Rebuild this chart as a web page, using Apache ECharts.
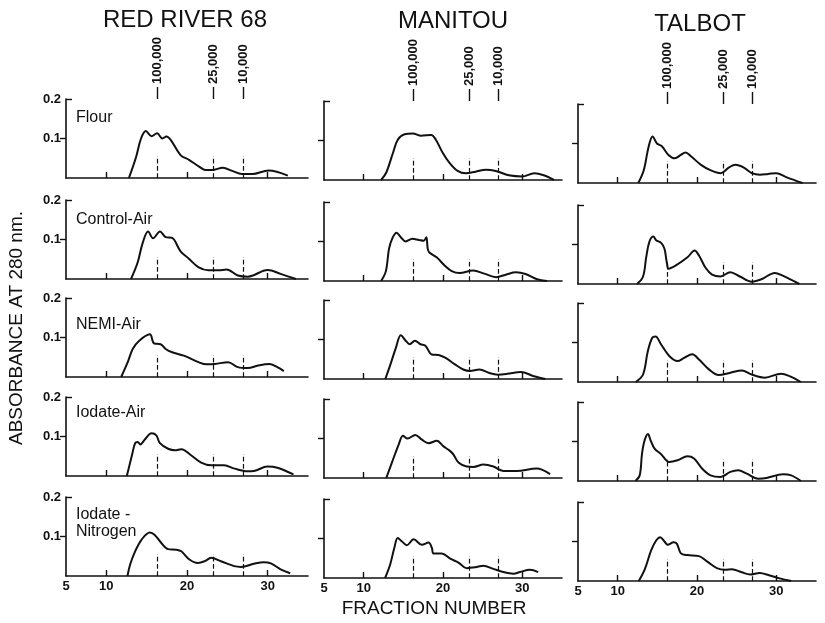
<!DOCTYPE html>
<html>
<head>
<meta charset="utf-8">
<script src="https://cdn.jsdelivr.net/npm/echarts@6/dist/echarts.min.js"></script>
<style>
  html, body { margin: 0; padding: 0; background: #fff; }
  #main { width: 825px; height: 623px; }
</style>
</head>
<body>
<div id="main"></div>
<script>
var cultivars = ['RED RIVER 68', 'MANITOU', 'TALBOT'];
var treatments = ['Flour', 'Control-Air', 'NEMI-Air', 'Iodate-Air', 'Iodate -\nNitrogen'];
var xTicks = [10, 20, 30];
var xTickLabels = [5, 10, 20, 30];
var yTickLabels = [0.1, 0.2];
var mwPositions = [16.3, 23.3, 27.0];
var mwLabels = ['100,000', '25,000', '10,000'];
var mwMarkHeight = 0.055;

// fraction number, absorbance
var redRiverFlour = [[12.8,0],[13.7,0.054],[14.3,0.1],[14.9,0.119],[15.6,0.106],[16.3,0.113],[16.95,0.1],[17.45,0.105],[18.0,0.096],[19.2,0.058],[20.25,0.046],[21.5,0.029],[22.3,0.02],[23.1,0.02],[24.45,0.026],[25.6,0.018],[26.8,0.01],[28.1,0.01],[30.1,0.019],[32.5,0.006]];
var redRiverControlAir = [[13.06,0],[13.9,0.043],[14.5,0.091],[15.18,0.12],[15.8,0.103],[16.65,0.12],[17.35,0.106],[18.16,0.104],[19.2,0.07],[20.2,0.052],[21.4,0.03],[22.65,0.022],[23.9,0.022],[24.9,0.024],[26.3,0.009],[27.55,0.006],[30.0,0.023],[31.6,0.013],[33.5,0]];
var redRiverNemiAir = [[11.84,0],[12.65,0.0375],[13.27,0.071],[14.08,0.092],[15.39,0.108],[15.92,0.085],[16.73,0.083],[17.35,0.071],[18.16,0.0625],[19.6,0.054],[21.43,0.0375],[22.45,0.032],[23.47,0.033],[25.1,0.0375],[26.3,0.025],[27.55,0.0225],[28.8,0.029],[30.2,0.033],[31.2,0.025],[32.0,0.015]];
var redRiverIodateAir = [[12.54,0],[13.16,0.051],[13.57,0.083],[13.9,0.086],[14.2,0.08],[14.8,0.093],[15.6,0.108],[16.2,0.103],[16.64,0.083],[17.66,0.069],[18.5,0.065],[19.3,0.068],[20.5,0.0525],[21.76,0.034],[23.0,0.027],[23.8,0.027],[24.6,0.027],[25.9,0.0186],[27.5,0.012],[28.3,0.0127],[29.96,0.024],[31.2,0.021],[33.2,0.004]];
var redRiverIodateN2 = [[12.62,0],[12.95,0.029],[13.57,0.0625],[14.4,0.093],[15.4,0.11],[16.0,0.104],[16.84,0.083],[17.66,0.068],[18.7,0.0667],[19.3,0.0625],[20.3,0.0417],[21.35,0.033],[22.2,0.0375],[23.0,0.046],[24.2,0.0375],[25.86,0.025],[26.7,0.023],[28.3,0.031],[29.5,0.035],[30.4,0.032],[31.6,0.017],[32.8,0.007]];

var manitouFlour = [[12.2,0],[12.85,0.019],[13.7,0.069],[14.3,0.102],[15.15,0.116],[16.2,0.118],[17.24,0.112],[18.5,0.114],[19.1,0.102],[19.96,0.069],[20.8,0.044],[21.84,0.023],[22.9,0.017],[24.1,0.021],[25.4,0.026],[26.65,0.023],[28.3,0.012],[30.0,0.009],[31.5,0.017],[32.7,0.012],[34.0,0]];
var manitouControlAir = [[12.2,0],[12.8,0.025],[13.2,0.082],[13.64,0.109],[14.14,0.122],[14.68,0.111],[15.3,0.1],[16.13,0.107],[16.96,0.104],[17.58,0.102],[17.9,0.111],[18.07,0.082],[18.28,0.072],[19.2,0.06],[20.27,0.038],[21.1,0.025],[22.1,0.02],[23.8,0.0265],[25.2,0.0186],[26.7,0.0097],[27.9,0.016],[29.2,0.022],[30.4,0.0177],[31.86,0.0044],[33.1,0]];
var manitouNemiAir = [[12.73,0],[13.44,0.041],[14.06,0.079],[14.68,0.111],[15.3,0.097],[15.8,0.088],[16.46,0.097],[17.16,0.088],[17.78,0.084],[18.6,0.062],[19.44,0.061],[20.27,0.054],[21.5,0.037],[22.55,0.024],[23.37,0.02],[24.6,0.024],[25.86,0.015],[26.9,0.011],[28.1,0.013],[29.8,0.018],[31.45,0.007],[32.9,0]];
var manitouIodateAir = [[12.85,0],[13.56,0.039],[14.4,0.084],[14.95,0.107],[15.53,0.1],[16.5,0.109],[17.34,0.097],[18.18,0.088],[19.22,0.094],[20.06,0.08],[20.8,0.07],[21.3,0.06],[21.95,0.039],[23.0,0.029],[23.84,0.028],[25.1,0.034],[26.35,0.029],[27.6,0.018],[29.3,0.018],[31.8,0.024],[33.5,0.0099]];
var manitouIodateN2 = [[12.7,0],[13.35,0.035],[13.86,0.076],[14.3,0.101],[14.8,0.093],[15.45,0.083],[16.3,0.098],[17.34,0.084],[18.18,0.09],[18.6,0.076],[18.8,0.062],[19.85,0.062],[20.9,0.049],[21.95,0.039],[23.0,0.025],[24.05,0.027],[25.1,0.031],[26.35,0.023],[27.6,0.015],[28.9,0.011],[29.7,0.015],[30.96,0.021],[32.0,0.015]];

var talbotFlour = [[12.6,0],[13.3,0.033],[13.9,0.092],[14.4,0.118],[14.95,0.1],[15.57,0.093],[16.4,0.071],[17.2,0.0625],[17.96,0.071],[18.54,0.0775],[19.28,0.067],[20.5,0.046],[21.75,0.032],[23.0,0.025],[24.0,0.039],[24.85,0.046],[25.9,0.039],[26.9,0.025],[27.94,0.021],[28.97,0.023],[30.0,0.025],[31.24,0.015],[33.3,0]];
var talbotControlAir = [[12.45,0],[13.2,0.019],[13.6,0.068],[14.0,0.107],[14.5,0.12],[14.85,0.111],[15.48,0.104],[15.9,0.089],[16.2,0.054],[16.43,0.0386],[17.34,0.047],[18.8,0.0675],[19.7,0.085],[20.25,0.072],[21.08,0.041],[21.9,0.0237],[22.95,0.019],[24.2,0.03],[25.4,0.019],[26.9,0.006],[28.13,0.012],[29.8,0.028],[30.8,0.021],[32.9,0]];
var talbotNemiAir = [[12.28,0],[13.2,0.019],[13.8,0.078],[14.36,0.112],[14.77,0.115],[15.48,0.095],[16.5,0.066],[17.55,0.053],[18.38,0.061],[19.4,0.07],[20.25,0.057],[21.5,0.032],[22.74,0.0176],[24.2,0.0235],[25.64,0.029],[26.9,0.019],[28.55,0.011],[30.6,0.021],[31.66,0.015],[33.1,0]];
var talbotIodateAir = [[12.24,0],[12.78,0.0144],[13.07,0.0695],[13.4,0.103],[13.82,0.119],[14.15,0.103],[14.65,0.082],[15.48,0.068],[16.5,0.048],[17.55,0.0525],[18.8,0.0627],[19.63,0.057],[20.66,0.031],[21.7,0.0144],[22.95,0.01],[24.2,0.023],[25.2,0.027],[26.27,0.0186],[27.7,0.006],[28.75,0.0076],[30.83,0.017],[31.87,0.0144],[33.1,0]];
var talbotIodateN2 = [[12.66,0],[13.4,0.0287],[14.23,0.078],[14.85,0.1025],[15.35,0.111],[15.9,0.1],[16.3,0.092],[17.05,0.098],[17.47,0.094],[17.97,0.07],[18.8,0.0656],[20.25,0.063],[21.3,0.049],[22.5,0.0328],[23.57,0.0287],[24.4,0.03],[25.64,0.022],[26.7,0.0164],[27.9,0.0205],[29.17,0.014],[30.4,0.0066],[31.87,0]];

var curves = [
  [redRiverFlour, manitouFlour, talbotFlour],
  [redRiverControlAir, manitouControlAir, talbotControlAir],
  [redRiverNemiAir, manitouNemiAir, talbotNemiAir],
  [redRiverIodateAir, manitouIodateAir, talbotIodateAir],
  [redRiverIodateN2, manitouIodateN2, talbotIodateN2]
];

// layout
var colLeft = [66, 324, 578];
var colWidth = [242, 238, 238];
var colDy = [0, 2, 5];
var rowTop = [99, 200, 298, 397, 497];
var panelH = 79;
var labelDy = [19, 20, 27, 16, 18];
var ink = '#111';

var grids = [], xAxes = [], yAxes = [], series = [], graphics = [];

for (var r = 0; r < 5; r++) {
  for (var c = 0; c < 3; c++) {
    var g = grids.length;
    grids.push({
      left: colLeft[c], top: rowTop[r] + colDy[c],
      width: colWidth[c], height: panelH
    });
    var bottomRow = (r === 4);
    var xMain = xAxes.length;
    xAxes.push({
      type: 'value', gridIndex: g, min: 5, max: 35, position: 'bottom',
      axisLine: { show: true, onZero: false, lineStyle: { color: ink, width: 1.6 } },
      axisTick: { show: true, inside: true, length: 6, customValues: xTicks,
        lineStyle: { color: ink, width: 1.4 } },
      axisLabel: { show: bottomRow, customValues: xTickLabels, margin: 4,
        fontSize: 13, fontWeight: 'bold', color: ink, fontFamily: 'Liberation Sans' },
      splitLine: { show: false }
    });
    var yPrimary = yAxes.length;
    yAxes.push({
      type: 'value', gridIndex: g, min: 0, max: 0.2, interval: 0.1,
      axisLine: { show: true, lineStyle: { color: ink, width: 1.6 } },
      axisTick: { show: true, inside: false, length: 6, customValues: [0.1],
        lineStyle: { color: ink, width: 1.4 } },
      axisLabel: { show: c === 0, customValues: yTickLabels, margin: 5,
        fontSize: 13, fontWeight: 'bold', color: ink, fontFamily: 'Liberation Sans',
        formatter: function (v) { return Number(v).toFixed(1); } },
      splitLine: { show: false }
    });
    yAxes.push({
      type: 'value', gridIndex: g, min: 0, max: 0.2, position: 'left',
      axisLine: { show: false },
      axisTick: { show: true, inside: true, length: 6, customValues: [0.2],
        lineStyle: { color: ink, width: 1.4 } },
      axisLabel: { show: false },
      splitLine: { show: false }
    });
    series.push({
      type: 'line', xAxisIndex: xMain, yAxisIndex: yPrimary,
      data: curves[r][c], smooth: 0.35, showSymbol: false, silent: true,
      lineStyle: { color: ink, width: 2 },
      markLine: {
        silent: true, symbol: ['none', 'none'], label: { show: false },
        lineStyle: { type: 'dashed', color: ink, width: 1.2 },
        data: mwPositions.map(function (x) {
          return [{ coord: [x, 0] }, { coord: [x, mwMarkHeight] }];
        })
      }
    });
    if (r === 0) {
      xAxes.push({
        type: 'value', gridIndex: g, min: 5, max: 35, position: 'top',
        axisLine: { show: true, onZero: false, lineStyle: { color: 'rgba(0,0,0,0)', width: 0 } },
        axisTick: { show: true, inside: false, length: 12, customValues: mwPositions,
          lineStyle: { color: ink, width: 1.4 } },
        axisLabel: { show: true, customValues: mwPositions, rotate: -90, margin: 15,
          fontSize: 13, fontWeight: 'bold', color: ink, fontFamily: 'Liberation Sans',
          formatter: function (v) {
            var best = 0;
            mwPositions.forEach(function (p, i) {
              if (Math.abs(p - v) < Math.abs(mwPositions[best] - v)) best = i;
            });
            return mwLabels[best];
          } },
        splitLine: { show: false }
      });
    }
  }
  graphics.push({
    type: 'text', left: 76, top: rowTop[r] + labelDy[r] - 9,
    style: { text: treatments[r], fill: ink, fontSize: 16, lineHeight: 17,
      fontFamily: 'Liberation Sans' }
  });
}

var titleX = [185, 453, 700];
var titleY = [8, 9, 12];
cultivars.forEach(function (name, c) {
  graphics.push({
    type: 'text', x: titleX[c], y: titleY[c],
    style: { text: name, fill: ink, fontSize: 24, fontFamily: 'Liberation Sans',
      textAlign: 'center' }
  });
});
graphics.push({
  type: 'text', x: 17, y: 328, rotation: Math.PI / 2,
  style: { text: 'ABSORBANCE AT 280 nm.', fill: ink, fontSize: 19,
    fontFamily: 'Liberation Sans', textAlign: 'center', textVerticalAlign: 'middle' }
});
graphics.push({
  type: 'text', x: 434, y: 609,
  style: { text: 'FRACTION NUMBER', fill: ink, fontSize: 19,
    fontFamily: 'Liberation Sans', textAlign: 'center', textVerticalAlign: 'middle' }
});

var chart = echarts.init(document.getElementById('main'), null, { renderer: 'canvas' });
chart.setOption({
  backgroundColor: '#fff',
  animation: false,
  grid: grids,
  xAxis: xAxes,
  yAxis: yAxes,
  series: series,
  graphic: graphics
});
</script>
</body>
</html>
